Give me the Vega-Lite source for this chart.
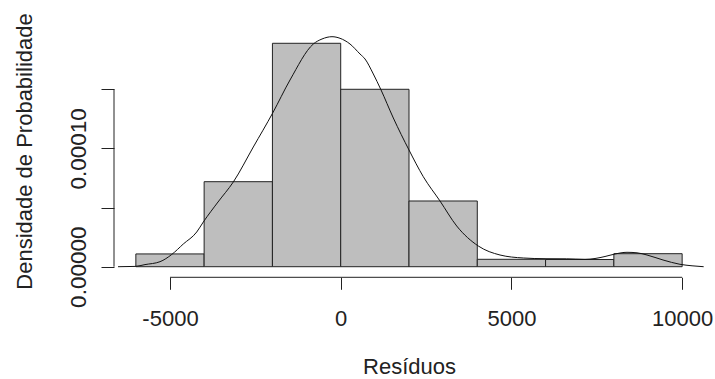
{
  "$schema": "https://vega.github.io/schema/vega-lite/v6.json",
  "autosize": {"type": "none"},
  "padding": {"left": 114, "top": 10, "right": 11, "bottom": 101.7},
  "width": 590,
  "height": 267.3,
  "background": "white",
  "config": {"view": {"stroke": null}},
  "datasets": {
    "bins": [
      {"x0": -6000, "x1": -4000, "density": 0.0000108},
      {"x0": -4000, "x1": -2000, "density": 0.00007188},
      {"x0": -2000, "x1": 0, "density": 0.00018891},
      {"x0": 0, "x1": 2000, "density": 0.00015001},
      {"x0": 2000, "x1": 4000, "density": 0.00005556},
      {"x0": 4000, "x1": 6000, "density": 0.00000626},
      {"x0": 6000, "x1": 8000, "density": 0.00000609},
      {"x0": 8000, "x1": 10000, "density": 0.0000110}
    ],
    "dens": [
      {"res": -6522, "d": 0},
      {"res": -6025, "d": 0.00000025},
      {"res": -5732, "d": 0.00000178},
      {"res": -5292, "d": 0.00000423},
      {"res": -4950, "d": 0.00001032},
      {"res": -4610, "d": 0.0000192},
      {"res": -4217, "d": 0.00002934},
      {"res": -4024, "d": 0.00003780},
      {"res": -3594, "d": 0.00005471},
      {"res": -3146, "d": 0.00007162},
      {"res": -2560, "d": 0.00010122},
      {"res": -1992, "d": 0.00012997},
      {"res": -1485, "d": 0.00015787},
      {"res": -802, "d": 0.00018831},
      {"res": -548, "d": 0.00019254},
      {"res": -255, "d": 0.00019449},
      {"res": -20, "d": 0.00019313},
      {"res": 272, "d": 0.00018831},
      {"res": 565, "d": 0.00017986},
      {"res": 712, "d": 0.00017563},
      {"res": 955, "d": 0.00016295},
      {"res": 1172, "d": 0.00015001},
      {"res": 1541, "d": 0.00012574},
      {"res": 2000, "d": 0.00009868},
      {"res": 2419, "d": 0.0000761},
      {"res": 2908, "d": 0.00005556},
      {"res": 3397, "d": 0.00003442},
      {"res": 4030, "d": 0.0000175},
      {"res": 4666, "d": 0.00000989},
      {"res": 5348, "d": 0.00000736},
      {"res": 5984, "d": 0.00000676},
      {"res": 6619, "d": 0.00000668},
      {"res": 7155, "d": 0.00000626},
      {"res": 7448, "d": 0.00000693},
      {"res": 7741, "d": 0.00000863},
      {"res": 8034, "d": 0.00001074},
      {"res": 8385, "d": 0.00001218},
      {"res": 8678, "d": 0.00001175},
      {"res": 8971, "d": 0.00000989},
      {"res": 9440, "d": 0.00000567},
      {"res": 9937, "d": 0.00000203},
      {"res": 10289, "d": 0.00000076},
      {"res": 10630, "d": 0}
    ]
  },
  "layer": [
    {
      "data": {"name": "bins"},
      "mark": {"type": "rect", "fill": "#bebebe", "stroke": "#222222", "strokeWidth": 1},
      "encoding": {
        "x": {
          "field": "x0", "type": "quantitative",
          "scale": {"domain": [-6640, 10640], "nice": false, "zero": false},
          "axis": {
            "values": [-5000, 0, 5000, 10000],
            "domain": false, "grid": false,
            "tickSize": 12, "tickColor": "#222222", "tickWidth": 1,
            "labelExpr": "'' + datum.value",
            "labelFont": "Liberation Sans", "labelFontSize": 22, "labelColor": "#222222",
            "labelBaseline": "alphabetic", "labelAlign": "center", "labelPadding": 36,
            "labelFlush": false, "labelOverlap": false,
            "title": "Resíduos",
            "titleFont": "Liberation Sans", "titleFontSize": 22, "titleFontWeight": "normal",
            "titleColor": "#222222", "titleBaseline": "alphabetic", "titleAlign": "center",
            "titleX": 295, "titleY": 96
          }
        },
        "x2": {"field": "x1"},
        "y": {
          "field": "density", "type": "quantitative",
          "scale": {"domain": [-0.00000896, 0.00021706], "nice": false, "zero": false},
          "axis": {
            "values": [0, 0.00005, 0.0001, 0.00015],
            "domain": false, "grid": false,
            "tickSize": 13, "tickColor": "#222222", "tickWidth": 1,
            "labelExpr": "datum.value == 0 ? '0.00000' : (abs(datum.value - 0.0001) < 0.000000001 ? '0.00010' : '')",
            "labelFont": "Liberation Sans", "labelFontSize": 22.5, "labelColor": "#222222",
            "labelAngle": -90, "labelAlign": "center", "labelBaseline": "alphabetic", "labelPadding": 16,
            "labelFlush": false, "labelOverlap": false,
            "title": "Densidade de Probabilidade",
            "titleFont": "Liberation Sans", "titleFontSize": 22, "titleFontWeight": "normal",
            "titleColor": "#222222", "titleAngle": -90, "titleBaseline": "alphabetic", "titleAlign": "center",
            "titleX": -83, "titleY": 141
          }
        },
        "y2": {"datum": 0}
      }
    },
    {
      "data": {"name": "dens"},
      "mark": {"type": "line", "stroke": "#111111", "strokeWidth": 1, "interpolate": "monotone"},
      "encoding": {
        "x": {"field": "res", "type": "quantitative"},
        "y": {"field": "d", "type": "quantitative"}
      }
    },
    {
      "data": {"values": [{}]},
      "mark": {"type": "rule", "stroke": "#222222", "strokeWidth": 1},
      "encoding": {
        "x": {"datum": -5000, "type": "quantitative"},
        "x2": {"datum": 10000},
        "y": {"datum": -0.00000896, "type": "quantitative"}
      }
    },
    {
      "data": {"values": [{}]},
      "mark": {"type": "rule", "stroke": "#222222", "strokeWidth": 1},
      "encoding": {
        "x": {"datum": -6640, "type": "quantitative"},
        "y": {"datum": 0, "type": "quantitative"},
        "y2": {"datum": 0.00015}
      }
    }
  ]
}
